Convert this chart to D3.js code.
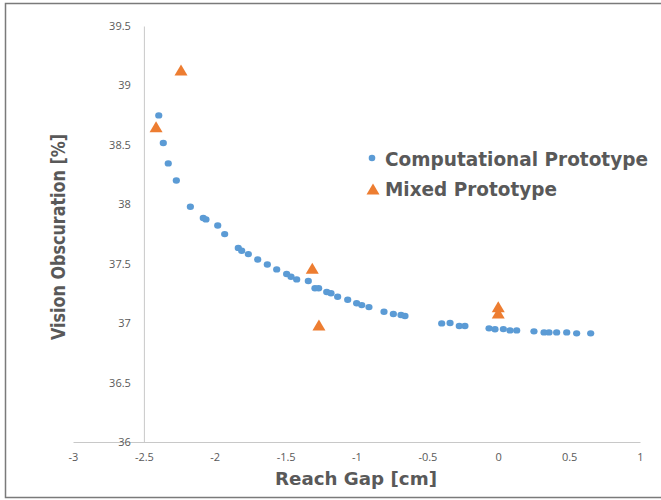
<!DOCTYPE html>
<html>
<head>
<meta charset="utf-8">
<script src="https://cdn.jsdelivr.net/npm/d3@7"></script>
<style>
  body { margin: 0; background: #fff; }
  svg { display: block; }
</style>
</head>
<body>
<svg id="chart" width="661" height="500"></svg>
<script>
(function (d3) {
    'use strict';

    // Computational Prototype
    const compX = [-2.395, -2.363, -2.328, -2.271, -2.172, -2.081, -2.062, -1.979, -1.930, -1.834,
        -1.810, -1.763, -1.697, -1.629, -1.563, -1.493, -1.462, -1.422, -1.340, -1.293,
        -1.267, -1.210, -1.180, -1.133, -1.062, -0.999, -0.963, -0.912, -0.806, -0.740,
        -0.686, -0.658, -0.399, -0.340, -0.275, -0.235, -0.065, -0.023, 0.036, 0.083,
        0.130, 0.252, 0.323, 0.358, 0.412, 0.483, 0.553, 0.652];
    const compY = [38.748, 38.515, 38.344, 38.200, 37.979, 37.884, 37.873, 37.822, 37.749, 37.633,
        37.609, 37.581, 37.536, 37.494, 37.452, 37.413, 37.390, 37.368, 37.354, 37.293,
        37.293, 37.262, 37.251, 37.222, 37.197, 37.167, 37.152, 37.135, 37.096, 37.077,
        37.068, 37.060, 36.998, 37.001, 36.976, 36.976, 36.956, 36.948, 36.950, 36.939,
        36.939, 36.931, 36.922, 36.922, 36.922, 36.922, 36.914, 36.914];

    // Mixed Prototype
    const mixX = [-2.414, -2.238, -1.312, -1.265, 0, 0];
    const mixY = [38.652, 39.129, 37.461, 36.984, 37.138, 37.085];

    const xTicks = [-3, -2.5, -2, -1.5, -1, -0.5, 0, 0.5, 1];
    const yTicks = [36, 36.5, 37, 37.5, 38, 38.5, 39, 39.5];
    const seriesNames = ["Computational Prototype", "Mixed Prototype"];
    const seriesColors = ["#5b9bd5", "#ed7d31"];

    const svg = d3.select('#chart');

    const x = d3.scaleLinear().domain([-3, 1]).range([73, 640]);
    const y = d3.scaleLinear().domain([36, 39.5]).range([442, 26]);

    // outer frame
    svg.append("rect")
        .attr("x", 5.5).attr("y", 3.5)
        .attr("width", 700).attr("height", 494)
        .attr("fill", "none")
        .attr("stroke", "#7a7a7a")
        .attr("stroke-width", 1.5);

    const axisColor = "#c8c8c8";
    const labelColor = "#595959";

    // x axis
    const gx = svg.append("g")
        .attr("transform", "translate(0," + y(36) + ")")
        .call(d3.axisBottom(x).tickValues(xTicks).tickSize(0).tickPadding(11)
            .tickFormat(d => String(d)));
    gx.select(".domain").attr("stroke", axisColor);
    gx.selectAll("text")
        .attr("fill", labelColor)
        .style("font-family", "'Open Sans', sans-serif")
        .style("font-size", "11px");

    // y axis crosses at -2.5
    const gy = svg.append("g")
        .attr("transform", "translate(" + x(-2.5) + ",0)")
        .call(d3.axisLeft(y).tickValues(yTicks).tickSize(0).tickPadding(13)
            .tickFormat(d => String(d)));
    gy.select(".domain").attr("stroke", axisColor);
    gy.selectAll("text")
        .attr("fill", labelColor)
        .style("font-family", "'Open Sans', sans-serif")
        .style("font-size", "11px");

    // axis titles
    svg.append("text")
        .attr("x", 356).attr("y", 485)
        .attr("text-anchor", "middle")
        .attr("fill", labelColor)
        .attr("font-family", "'DejaVu Sans', sans-serif")
        .attr("font-weight", "bold")
        .attr("font-size", 18)
        .attr("textLength", 162)
        .attr("lengthAdjust", "spacingAndGlyphs")
        .text("Reach Gap [cm]");

    svg.append("text")
        .attr("transform", "translate(65,237) rotate(-90)")
        .attr("text-anchor", "middle")
        .attr("fill", labelColor)
        .attr("font-family", "'DejaVu Sans', sans-serif")
        .attr("font-weight", "bold")
        .attr("font-size", 19)
        .attr("textLength", 206)
        .attr("lengthAdjust", "spacingAndGlyphs")
        .text("Vision Obscuration [%]");

    const triangle = (cx, cy, w, h) =>
        "M" + cx + "," + (cy - h / 2) + "L" + (cx + w / 2) + "," + (cy + h / 2) +
        "L" + (cx - w / 2) + "," + (cy + h / 2) + "Z";

    // points
    const comp = compX.map((d, i) => ({ x: d, y: compY[i] }));
    const mix = mixX.map((d, i) => ({ x: d, y: mixY[i] }));

    svg.append("g")
        .selectAll("ellipse")
        .data(comp)
        .join("ellipse")
        .attr("cx", d => x(d.x))
        .attr("cy", d => y(d.y))
        .attr("rx", 3.6)
        .attr("ry", 3.2)
        .attr("fill", seriesColors[0]);

    svg.append("g")
        .selectAll("path")
        .data(mix)
        .join("path")
        .attr("d", d => triangle(x(d.x), y(d.y), 13, 11))
        .attr("fill", seriesColors[1]);

    // legend
    const legend = svg.append("g");
    legend.append("circle")
        .attr("cx", 372).attr("cy", 158).attr("r", 3.3)
        .attr("fill", seriesColors[0]);
    legend.append("path")
        .attr("d", triangle(373, 189, 13, 11))
        .attr("fill", seriesColors[1]);
    const legendWidths = [263, 172];
    [166, 196].forEach((by, i) => {
        legend.append("text")
            .attr("x", 385).attr("y", by)
            .attr("fill", labelColor)
            .attr("font-family", "'DejaVu Sans', sans-serif")
            .attr("font-weight", "bold")
            .attr("font-size", 19)
            .attr("textLength", legendWidths[i])
            .attr("lengthAdjust", "spacingAndGlyphs")
            .text(seriesNames[i]);
    });

}(d3));
</script>
</body>
</html>
